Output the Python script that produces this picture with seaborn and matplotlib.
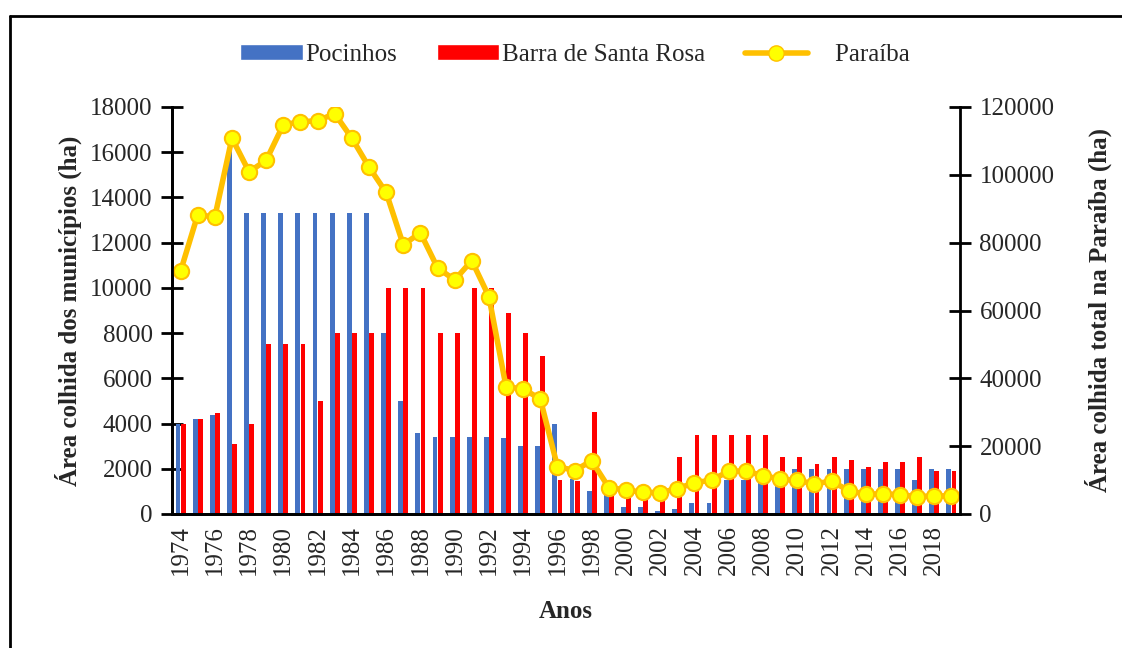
import numpy as np
import pandas as pd
import matplotlib.pyplot as plt
import seaborn as sns
from matplotlib.lines import Line2D
from matplotlib.patches import Patch

# ── Data ──────────────────────────────────────────────────
anos = list(range(1974, 2020))

pocinhos = [4000, 4200, 4400, 16200, 13300, 13300, 13300, 13300, 13300, 13300,
            13300, 13300, 8000, 5000, 3600, 3400, 3400, 3400, 3400, 3350,
            3000, 3000, 4000, 1550, 1000, 900, 300, 300, 130, 200,
            500, 500, 1500, 1500, 1500, 1800, 2000, 2000, 2000, 2000,
            2000, 2000, 2000, 1500, 2000, 2000]

barra = [4000, 4200, 4450, 3100, 4000, 7500, 7500, 7500, 5000, 8000,
         8000, 8000, 10000, 10000, 10000, 8000, 8000, 10000, 10000, 8900,
         8000, 7000, 1500, 1450, 4500, 1000, 1000, 1000, 1000, 2500,
         3500, 3500, 3500, 3500, 3500, 2500, 2500, 2200, 2500, 2400,
         2100, 2300, 2300, 2500, 1900, 1900]

paraiba = [71600, 88200, 87600, 110800, 100900, 104300, 114800, 115600, 116000, 118000,
           110800, 102300, 94800, 79400, 82900, 72600, 69000, 74700, 64100, 37500,
           36900, 33900, 14000, 12800, 15700, 7800, 7100, 6400, 6300, 7500,
           9200, 10000, 12600, 12700, 11300, 10300, 9900, 8900, 9700, 6900,
           5800, 6000, 5700, 5100, 5400, 5300]

df = pd.DataFrame({
    'Ano': anos * 2,
    'Município': ['Pocinhos'] * len(anos) + ['Barra de Santa Rosa'] * len(anos),
    'Area': pocinhos + barra,
})
df_pb = pd.DataFrame({'pos': np.arange(len(anos)), 'Area': paraiba})

# ── Style ─────────────────────────────────────────────────
sns.set_theme(style='white')
plt.rcParams['font.family'] = ['Liberation Serif', 'DejaVu Serif']
plt.rcParams['font.size'] = 18

cores = {'Pocinhos': '#4472C4', 'Barra de Santa Rosa': '#FF0000'}

fig = plt.figure(figsize=(11.22, 6.48), dpi=100)
ax = fig.add_axes([172 / 1122, 1 - 514 / 648, (960 - 172) / 1122, (514 - 107) / 648])

sns.barplot(data=df, x='Ano', y='Area', hue='Município', palette=cores,
            width=0.6, gap=0.05, linewidth=0, ax=ax, legend=False, saturation=1)

ax.set_xlim(-0.5, len(anos) - 0.5)
ax.set_ylim(0, 18000)
ax.set_yticks(np.arange(0, 18001, 2000))
ax.set_xticks(np.arange(len(anos)))
ax.set_xticklabels([str(a) if (a - 1974) % 2 == 0 else '' for a in anos],
                   rotation=90)
ax.tick_params(axis='x', length=0, pad=8, labelsize=18)
ax.set_xticks(np.arange(-0.5, len(anos)), minor=True)
ax.tick_params(axis='x', which='minor', direction='inout', length=12, width=2,
               color='black')
ax.tick_params(axis='y', direction='inout', length=16, width=2, color='black',
               labelsize=18, pad=6, left=True)
ax.set_xlabel('Anos', fontweight='bold', fontsize=18, labelpad=18)
ax.set_ylabel('Área colhida dos municípios (ha)', fontweight='bold', fontsize=18,
              labelpad=6)

# ── Paraíba line on right axis ────────────────────────────
ax2 = ax.twinx()
sns.lineplot(data=df_pb, x='pos', y='Area', ax=ax2, color='#FFC000',
             linewidth=4, marker='o', markersize=11,
             markerfacecolor='#FFFF00', markeredgecolor='#FFC000',
             markeredgewidth=1.5)
ax2.set_ylim(0, 120000)
ax2.set_yticks(np.arange(0, 120001, 20000))
ax2.set_xlim(-0.5, len(anos) - 0.5)
ax2.tick_params(axis='y', direction='inout', length=16, width=2, color='black',
                labelsize=18, pad=6, right=True)
ax2.set_ylabel('Área colhida total na Paraíba (ha)', fontweight='bold',
               fontsize=18, rotation=90, labelpad=22)
ax2.set_xlabel('')

for a in (ax, ax2):
    a.spines['top'].set_visible(False)
    for s in ('left', 'right', 'bottom'):
        a.spines[s].set_color('black')
        a.spines[s].set_linewidth(2)
ax.spines['right'].set_visible(False)

# ── Legend ───────────────────────────────────────────────
handles = [
    Patch(facecolor=cores['Pocinhos'], label='Pocinhos'),
    Patch(facecolor=cores['Barra de Santa Rosa'], label='Barra de Santa Rosa'),
    Line2D([0], [0], color='#FFC000', linewidth=4, marker='o', markersize=11,
           markerfacecolor='#FFFF00', markeredgecolor='#FFC000',
           label='    Paraíba'),
]
fig.legend(handles=handles, loc='center', bbox_to_anchor=(575 / 1122, 1 - 55 / 648),
           ncol=3, frameon=False, fontsize=18, handlelength=2.5, handleheight=0.6,
           handletextpad=0.1, columnspacing=1.6)

# ── Outer frame (left and top edges visible) ──────────────
fig.add_artist(Line2D([10 / 1122, 10 / 1122], [0, 1 - 16 / 648], color='black',
                      linewidth=2, transform=fig.transFigure))
fig.add_artist(Line2D([10 / 1122, 1], [1 - 16 / 648, 1 - 16 / 648], color='black',
                      linewidth=2, transform=fig.transFigure))

fig.savefig('out.png', dpi=100)
